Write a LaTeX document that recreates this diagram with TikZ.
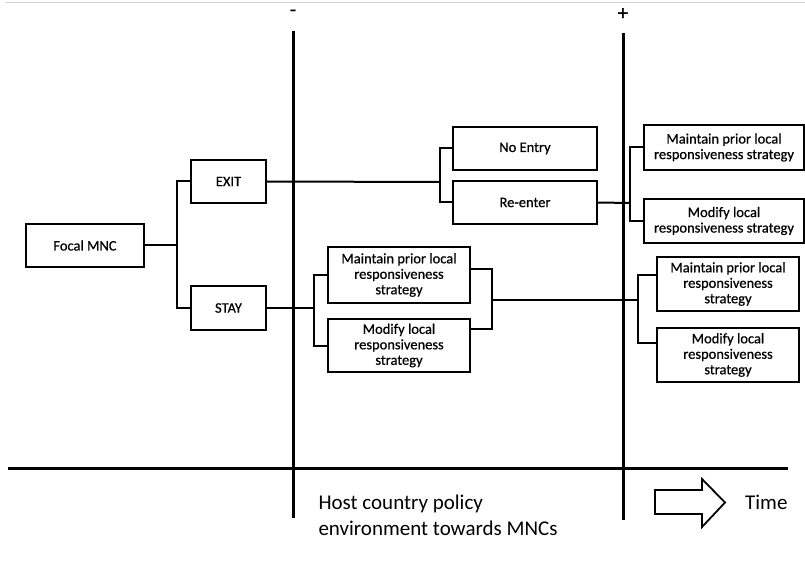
\documentclass[tikz,border=0pt]{standalone}
\usepackage{fontspec}
\setmainfont{Carlito}
\newfontfamily\boxfont[FakeBold=0.6]{Carlito}
\usetikzlibrary{positioning}
\tikzset{
  choice/.style={draw=black,line width=1.8pt,align=center,inner sep=0pt,
    font=\boxfont\fontsize{14.5}{15.5}\selectfont},
  branch/.style={draw=black,line width=2pt},
  axis/.style={draw=black,line width=3pt},
  sign/.style={font=\boxfont\fontsize{21}{24}\selectfont},
  caption/.style={font=\fontsize{21}{26}\selectfont,align=left}
}

\begin{document}
\begin{tikzpicture}[x=1pt,y=-1pt]
      \useasboundingbox (0,0) rectangle (805,569);
      \draw[gray!35,line width=1pt] (5,3) -- (805,3);
      % time axis and policy cuts
      \coordinate (t0) at (8,468);
      \coordinate (t1) at (788,468);
      \coordinate (m0) at (293,31);
      \coordinate (m1) at (293,518);
      \coordinate (p0) at (623,33);
      \coordinate (p1) at (623,520);
      \draw[axis] (t0) -- (t1);
      \draw[axis] (m0) -- (m1);
      \draw[axis] (p0) -- (p1);
      \node[sign] (minus) at (293,13) {-};
      \node[sign] (plus) at (623,14) {+};
      % decision boxes
      \node[choice,minimum width=118pt,minimum height=43pt] (focal) at (85,245.5) {Focal MNC};
      \node[choice,minimum width=75pt,minimum height=43pt] (exit) at (228.5,181.5) {EXIT};
      \node[choice,minimum width=75pt,minimum height=44pt] (stay) at (228.5,308) {STAY};
      \node[choice,minimum width=144pt,minimum height=43pt] (noentry) at (525,148.5) {No Entry};
      \node[choice,minimum width=144pt,minimum height=43pt] (reenter) at (525,202.5) {Re-enter};
      \node[choice,minimum width=142pt,minimum height=56pt] (stmain) at (399,275) {Maintain prior local\\responsiveness\\strategy};
      \node[choice,minimum width=142pt,minimum height=53pt] (stmod) at (399,345.5) {Modify local\\responsiveness\\strategy};
      \node[choice,minimum width=160pt,minimum height=45pt] (remain) at (724,147.5) {Maintain prior local\\responsiveness strategy};
      \node[choice,minimum width=160pt,minimum height=44pt] (remod) at (724,221) {Modify local\\responsiveness strategy};
      \node[choice,minimum width=142pt,minimum height=54pt] (lamain) at (728,284) {Maintain prior local\\responsiveness\\strategy};
      \node[choice,minimum width=142pt,minimum height=54pt] (lamod) at (728,355) {Modify local\\responsiveness\\strategy};
      % branch points
      \coordinate (b1) at (177,245.5);
      \coordinate (b2) at (440,182);
      \coordinate (b3) at (630,203);
      \coordinate (b4) at (314,308);
      \coordinate (b5) at (492,300);
      \coordinate (b6) at (638,300);
      \draw[branch] (focal.east) -- (b1);
      \draw[branch] (exit.west) -| (b1) |- (stay.west);
      \draw[branch] (exit.east) -- (b2);
      \draw[branch] (noentry.west) -| (b2) |- (reenter.west);
      \draw[branch] (reenter.east) -- (b3);
      \draw[branch] (remain.west) -| (b3) |- (remod.west);
      \draw[branch] (stay.east) -- (b4);
      \draw[branch] (stmain.west) -| (b4) |- (stmod.west);
      \draw[branch] ([yshift=6pt]stmain.east) -| (b5) |- ([yshift=16.5pt]stmod.east);
      \draw[branch] (b5) -- (b6);
      \draw[branch] ([yshift=9pt]lamain.west) -| (b6) |- ([yshift=12pt]lamod.west);
      % legend
      \node[caption,anchor=west] (policy) at (315,515) {Host country policy\\environment towards MNCs};
      \draw[line width=1.8pt,line join=miter] (655,490) -- (702,490) -- (702,479) -- (725,502.5)
        -- (702,527) -- (702,514) -- (655,514) -- cycle;
      \node[caption,anchor=west,inner sep=0pt] (time) at (745,502) {Time};
    \end{tikzpicture}
\end{document}
